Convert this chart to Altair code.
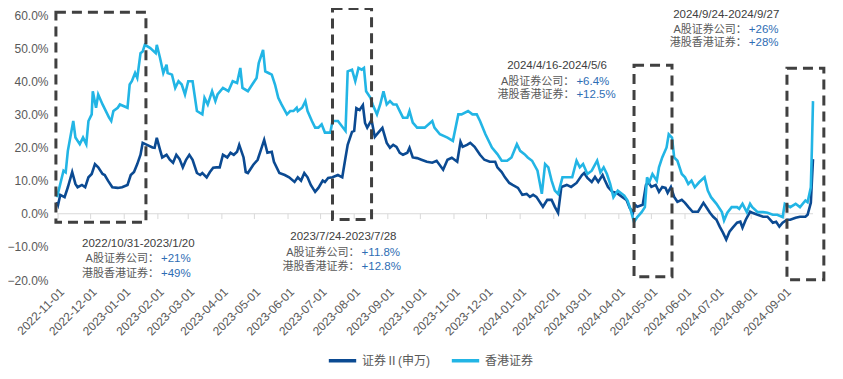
import altair as alt
import pandas as pd

# ---------------- data (values in %) ----------------
a_dates = ["2022-10-31","2022-11-01","2022-11-03","2022-11-07","2022-11-10","2022-11-14","2022-11-17","2022-11-19","2022-11-23","2022-11-26","2022-11-29","2022-12-02","2022-12-05","2022-12-08","2022-12-12","2022-12-14","2022-12-17","2022-12-21","2022-12-26","2022-12-30","2023-01-04","2023-01-07","2023-01-10","2023-01-13","2023-01-16","2023-01-18","2023-01-22","2023-01-27","2023-01-29","2023-01-31","2023-02-03","2023-02-05","2023-02-09","2023-02-12","2023-02-15","2023-02-18","2023-02-21","2023-02-24","2023-02-27","2023-03-02","2023-03-05","2023-03-09","2023-03-12","2023-03-14","2023-03-18","2023-03-21","2023-03-24","2023-03-27","2023-03-30","2023-04-02","2023-04-06","2023-04-09","2023-04-12","2023-04-15","2023-04-17","2023-04-21","2023-04-23","2023-04-25","2023-04-30","2023-05-04","2023-05-07","2023-05-10","2023-05-13","2023-05-17","2023-05-19","2023-05-24","2023-05-29","2023-06-02","2023-06-07","2023-06-10","2023-06-13","2023-06-16","2023-06-19","2023-06-22","2023-06-26","2023-06-29","2023-07-03","2023-07-05","2023-07-08","2023-07-12","2023-07-17","2023-07-21","2023-07-24","2023-07-26","2023-07-30","2023-08-01","2023-08-03","2023-08-06","2023-08-09","2023-08-11","2023-08-13","2023-08-17","2023-08-20","2023-08-23","2023-08-27","2023-08-31","2023-09-03","2023-09-06","2023-09-09","2023-09-12","2023-09-15","2023-09-19","2023-09-21","2023-09-24","2023-09-28","2023-10-02","2023-10-07","2023-10-12","2023-10-16","2023-10-22","2023-10-26","2023-10-30","2023-11-04","2023-11-07","2023-11-09","2023-11-13","2023-11-16","2023-11-20","2023-11-25","2023-11-29","2023-12-04","2023-12-09","2023-12-11","2023-12-15","2023-12-18","2023-12-22","2023-12-25","2023-12-30","2024-01-03","2024-01-07","2024-01-10","2024-01-13","2024-01-16","2024-01-22","2024-01-26","2024-01-30","2024-02-02","2024-02-05","2024-02-08","2024-02-13","2024-02-17","2024-02-22","2024-02-27","2024-02-29","2024-03-03","2024-03-07","2024-03-10","2024-03-13","2024-03-17","2024-03-19","2024-03-22","2024-03-26","2024-03-30","2024-04-04","2024-04-08","2024-04-11","2024-04-14","2024-04-16","2024-04-18","2024-04-23","2024-04-26","2024-04-28","2024-05-01","2024-05-05","2024-05-08","2024-05-11","2024-05-14","2024-05-16","2024-05-19","2024-05-22","2024-05-25","2024-05-29","2024-06-01","2024-06-04","2024-06-08","2024-06-13","2024-06-18","2024-06-21","2024-06-24","2024-06-27","2024-06-30","2024-07-03","2024-07-06","2024-07-09","2024-07-12","2024-07-15","2024-07-19","2024-07-22","2024-07-24","2024-07-27","2024-07-31","2024-08-02","2024-08-07","2024-08-12","2024-08-16","2024-08-21","2024-08-24","2024-08-27","2024-08-30","2024-09-03","2024-09-06","2024-09-11","2024-09-15","2024-09-20","2024-09-22","2024-09-25","2024-09-26","2024-09-27"]
a_values = [3.6,2.7,5.7,5,8,12.6,9,8,8.7,8,11,12,15,14,12,11.7,10,8,7.8,8,8.7,11.7,12.6,15,17.8,21.4,20.8,20,19.9,22.9,19.3,17,17.8,16.3,15.4,17.8,16.5,14,16.3,17.8,16.3,12.3,11.7,12.3,11,12.6,13.9,14,14,17.8,17,18.4,17.8,18.7,20.8,17,12.6,12.3,14.8,16.3,19.3,22.3,18.4,18.7,15.7,12.3,11.7,11,9.6,11,10,12.3,11,8.7,6.6,7.8,10,9.6,10.8,11,11.7,11,17,20.8,24.7,25,31.9,31.3,32.8,27.4,26,28.3,23.2,24.4,25.9,21.4,19.9,20.8,20.2,18.4,17.8,18.4,19.9,17,16.8,16.3,15.7,15.4,16,13.3,16.3,16.9,15.7,21.7,20.2,20.8,21.4,20.2,17.8,16.3,15.7,15.7,14,12.6,11,9.3,8.7,7.8,5.7,6,5.1,5.7,5.1,2.1,4.2,4.2,2.1,0.3,8.1,8.7,8.1,9.3,11.7,12.3,10.8,9.6,11.1,9.6,11.7,10.2,8.1,6.6,6.3,5.1,4.2,1.8,0.3,2.7,2.1,2.7,8.7,9.6,8.1,8.7,6.6,8.1,7.8,6.3,8.1,5.1,3.6,4.2,3.3,2.1,0.6,0.6,3.3,1.8,0.3,-0.9,-1.8,-3.9,-5.7,-7.8,-5.4,-4.2,-2.7,-2.4,-4.2,-1.8,0.6,0.3,-0.3,-0.9,-0.9,-2.7,-2.4,-3.9,-2.7,-1.8,-1.8,-1.2,-0.9,-0.9,-0.3,3.3,10,16.5]

hk_dates = ["2022-10-31","2022-11-03","2022-11-06","2022-11-08","2022-11-10","2022-11-15","2022-11-17","2022-11-21","2022-11-24","2022-11-27","2022-11-29","2022-12-02","2022-12-03","2022-12-06","2022-12-08","2022-12-12","2022-12-18","2022-12-20","2022-12-22","2022-12-26","2022-12-28","2023-01-04","2023-01-06","2023-01-08","2023-01-11","2023-01-13","2023-01-16","2023-01-18","2023-01-20","2023-01-25","2023-01-30","2023-01-31","2023-02-03","2023-02-06","2023-02-09","2023-02-10","2023-02-14","2023-02-17","2023-02-20","2023-02-23","2023-02-26","2023-03-01","2023-03-05","2023-03-09","2023-03-14","2023-03-16","2023-03-19","2023-03-23","2023-03-26","2023-03-28","2023-04-02","2023-04-07","2023-04-11","2023-04-15","2023-04-18","2023-04-20","2023-04-25","2023-04-29","2023-05-03","2023-05-05","2023-05-09","2023-05-11","2023-05-14","2023-05-17","2023-05-20","2023-05-23","2023-05-26","2023-05-31","2023-06-03","2023-06-06","2023-06-09","2023-06-10","2023-06-14","2023-06-17","2023-06-19","2023-06-23","2023-06-26","2023-06-29","2023-07-02","2023-07-05","2023-07-10","2023-07-12","2023-07-17","2023-07-24","2023-07-26","2023-07-30","2023-08-02","2023-08-05","2023-08-08","2023-08-10","2023-08-12","2023-08-16","2023-08-18","2023-08-22","2023-08-25","2023-08-28","2023-08-31","2023-09-03","2023-09-06","2023-09-09","2023-09-12","2023-09-15","2023-09-19","2023-09-21","2023-09-24","2023-09-28","2023-10-05","2023-10-12","2023-10-14","2023-10-19","2023-10-26","2023-10-31","2023-11-05","2023-11-08","2023-11-14","2023-11-18","2023-11-22","2023-11-25","2023-11-30","2023-12-06","2023-12-11","2023-12-15","2023-12-20","2023-12-24","2023-12-29","2024-01-01","2024-01-05","2024-01-08","2024-01-12","2024-01-17","2024-01-21","2024-01-24","2024-01-27","2024-01-30","2024-02-02","2024-02-05","2024-02-09","2024-02-13","2024-02-18","2024-02-22","2024-02-25","2024-02-28","2024-03-03","2024-03-07","2024-03-12","2024-03-15","2024-03-18","2024-03-21","2024-03-24","2024-03-27","2024-03-31","2024-04-02","2024-04-06","2024-04-09","2024-04-12","2024-04-15","2024-04-18","2024-04-22","2024-04-25","2024-04-27","2024-04-29","2024-05-02","2024-05-06","2024-05-08","2024-05-11","2024-05-15","2024-05-17","2024-05-20","2024-05-22","2024-05-25","2024-05-29","2024-06-01","2024-06-04","2024-06-07","2024-06-10","2024-06-14","2024-06-19","2024-06-22","2024-06-25","2024-06-30","2024-07-05","2024-07-07","2024-07-10","2024-07-14","2024-07-19","2024-07-21","2024-07-24","2024-07-28","2024-07-31","2024-08-02","2024-08-07","2024-08-12","2024-08-16","2024-08-21","2024-08-25","2024-08-30","2024-09-01","2024-09-06","2024-09-11","2024-09-15","2024-09-20","2024-09-22","2024-09-25","2024-09-26","2024-09-27"]
hk_values = [5,9,13,12.5,19,28,23,21,23,21,28,30,37,32,36,33,29,28,31,32,33,32,39,40,42.5,41,48.5,49,51,50,48.5,51,47,42.5,45,42.5,42,38,40,39,36,40,40,31,30,35,33,37,34,36,38,37,40,39.5,44,38,37,39,41,45.5,49.5,43,42.5,42,39,35,33,30,31,31,32,31,32,34,31,28,26,26,27,24.5,24.5,28,28,25,43,43.5,40,44,43.5,44,37,35,33,30,33,37,33,34,33,33,31,29,29,31,27.5,26,26,28,26,24,23,22,30,30,31,30,30,28,24,20,18,16,16,17,21,19,18,17,16,13,6,15,14,10,7,6,11,11,11,16,14,15,12,13,16,12.5,14,12,9,5,7,6.5,5.5,4,1,-2.5,-1,0.5,2,11,9.5,12,10,14,17,20,24,23,17,16,12,11,9,10,8,9.5,11,7,5,3,0.5,-2,0.3,2,2,1.5,3,0.5,3,2,0.5,0.5,0.3,-0.3,-0.3,-1,3,2,3,2,4,3.5,8,20,34]

series_names = ["证券Ⅱ(申万)", "香港证券"]
series_colors = ["#0B4A92", "#22B5E5"]

month_ticks = ["2022-11-01","2022-12-01","2023-01-01","2023-02-01","2023-03-01","2023-04-01","2023-05-01","2023-06-01","2023-07-01","2023-08-01","2023-09-01","2023-10-01","2023-11-01","2023-12-01","2024-01-01","2024-02-01","2024-03-01","2024-04-01","2024-05-01","2024-06-01","2024-07-01","2024-08-01","2024-09-01"]
y_ticks = [-0.2, -0.1, 0.0, 0.1, 0.2, 0.3, 0.4, 0.5, 0.6]

# dashed highlight boxes (date range, value range in %)
box_start = ["2022-10-30", "2023-07-12", "2024-04-15", "2024-09-03"]
box_end = ["2023-01-21", "2023-08-17", "2024-05-20", "2024-10-07"]
box_top = [60.8, 62.0, 44.8, 43.9]
box_bottom = [-2.6, -1.7, -19.0, -19.9]

# annotations
ann_titles = ["2022/10/31-2023/1/20", "2023/7/24-2023/7/28", "2024/4/16-2024/5/6", "2024/9/24-2024/9/27"]
ann_a = ["+21%", "+11.8%", "+6.4%", "+26%"]
ann_hk = ["+49%", "+12.8%", "+12.5%", "+28%"]
ann_title_date = ["2023-01-14", "2023-07-22", "2024-02-04", "2024-07-09"]
ann_split_date = ["2023-02-02", "2023-08-06", "2024-02-20", "2024-07-28"]
ann_y = [[-9.0, -13.8, -18.1], [-7.1, -11.7, -16.0], [44.5, 39.7, 35.7], [60.0, 55.5, 51.5]]
label_a = "A股证券公司："
label_hk = "港股香港证券："

# ---------------- tables ----------------
lines_df = pd.concat([
    pd.DataFrame({"date": a_dates, "value": [v / 100 for v in a_values], "series": series_names[0]}),
    pd.DataFrame({"date": hk_dates, "value": [v / 100 for v in hk_values], "series": series_names[1]}),
])

boxes_df = pd.DataFrame({"date": box_start, "date2": box_end,
                         "value": [v / 100 for v in box_top], "value2": [v / 100 for v in box_bottom]})

titles_rows, labels_rows, values_rows = [], [], []
for i in range(4):
    titles_rows.append({"date": ann_title_date[i], "value": ann_y[i][0] / 100, "text": ann_titles[i]})
    labels_rows.append({"date": ann_split_date[i], "value": ann_y[i][1] / 100, "text": label_a})
    labels_rows.append({"date": ann_split_date[i], "value": ann_y[i][2] / 100, "text": label_hk})
    values_rows.append({"date": ann_split_date[i], "value": ann_y[i][1] / 100, "text": ann_a[i]})
    values_rows.append({"date": ann_split_date[i], "value": ann_y[i][2] / 100, "text": ann_hk[i]})
titles_df = pd.DataFrame(titles_rows)
labels_df = pd.DataFrame(labels_rows)
values_df = pd.DataFrame(values_rows)
ticks_df = pd.DataFrame({"date": month_ticks, "value": [0.0] * len(month_ticks),
                         "value2": [-0.016] * len(month_ticks)})
zero_df = pd.DataFrame({"date": ["2022-10-31"], "date2": ["2024-09-27"], "value": [0.0]})

FONT = "Liberation Sans, Noto Sans CJK SC, sans-serif"

def dt(s):
    y, m, d = (int(p) for p in s.split("-"))
    return alt.DateTime(year=y, month=m, date=d, utc=True)

x_scale = alt.Scale(type="utc", domain=[dt("2022-10-31"), dt("2024-09-27")])
y_scale = alt.Scale(domain=[-0.2, 0.6], nice=False, zero=False)

x_axis = alt.Axis(values=[dt(s) for s in month_ticks], labelExpr="utcFormat(datum.value, '%Y-%m-%d')",
                  labelAngle=-45, labelFontSize=12, labelColor="#595959", labelFont=FONT,
                  domain=False, ticks=False, grid=False, labelPadding=6, title=None, labelFlush=False,
                  labelOverlap=False)
y_axis = alt.Axis(values=y_ticks, format=".1%", labelFontSize=12, labelColor="#595959", labelFont=FONT,
                  domain=False, ticks=False, grid=False, labelPadding=9, title=None)

X = alt.X("date:T", scale=x_scale, axis=x_axis)
Y = alt.Y("value:Q", scale=y_scale, axis=y_axis)

zero_line = alt.Chart(zero_df).mark_rule(color="#D9D9D9", strokeWidth=1.2).encode(
    x=X, x2="date2:T", y=Y
)

month_tick_marks = alt.Chart(ticks_df).mark_rule(color="#D9D9D9", strokeWidth=1).encode(
    x=X, y=Y, y2="value2:Q"
)

lines = alt.Chart(lines_df).mark_line(strokeWidth=2.6, interpolate="linear").encode(
    x=X,
    y=Y,
    color=alt.Color("series:N",
                    scale=alt.Scale(domain=series_names, range=series_colors),
                    sort=series_names,
                    legend=alt.Legend(orient="none", legendX=270, legendY=330, direction="horizontal",
                                      title=None, symbolType="stroke", symbolStrokeWidth=3.5,
                                      symbolSize=750, labelFontSize=12, labelColor="#595959",
                                      labelFont=FONT, columnPadding=14, labelOffset=4)),
)

boxes = alt.Chart(boxes_df).mark_rect(fillOpacity=0, stroke="#404040", strokeWidth=3,
                                      strokeDash=[10, 6], clip=False).encode(
    x=X, x2="date2:T", y=Y, y2="value2:Q",
)

titles = alt.Chart(titles_df).mark_text(align="center", baseline="middle", fontSize=11.5,
                                        color="#404040", font=FONT).encode(
    x=X, y=Y, text="text:N",
)
labels = alt.Chart(labels_df).mark_text(align="right", baseline="middle", fontSize=11,
                                        color="#595959", font=FONT).encode(
    x=X, y=Y, text="text:N",
)
values = alt.Chart(values_df).mark_text(align="left", baseline="middle", dx=2, fontSize=11.5,
                                        color="#2E6DB4", font=FONT).encode(
    x=X, y=Y, text="text:N",
)

chart = alt.layer(zero_line, month_tick_marks, lines, boxes, titles, labels, values).properties(
    width=756, height=265,
    autosize=alt.AutoSizeParams(type="none"),
    padding={"left": 49, "top": 7, "right": 20, "bottom": 90},
    background="white",
).configure_view(stroke=None)

chart.save("out.html", embed_options={"renderer": "svg", "actions": False})
